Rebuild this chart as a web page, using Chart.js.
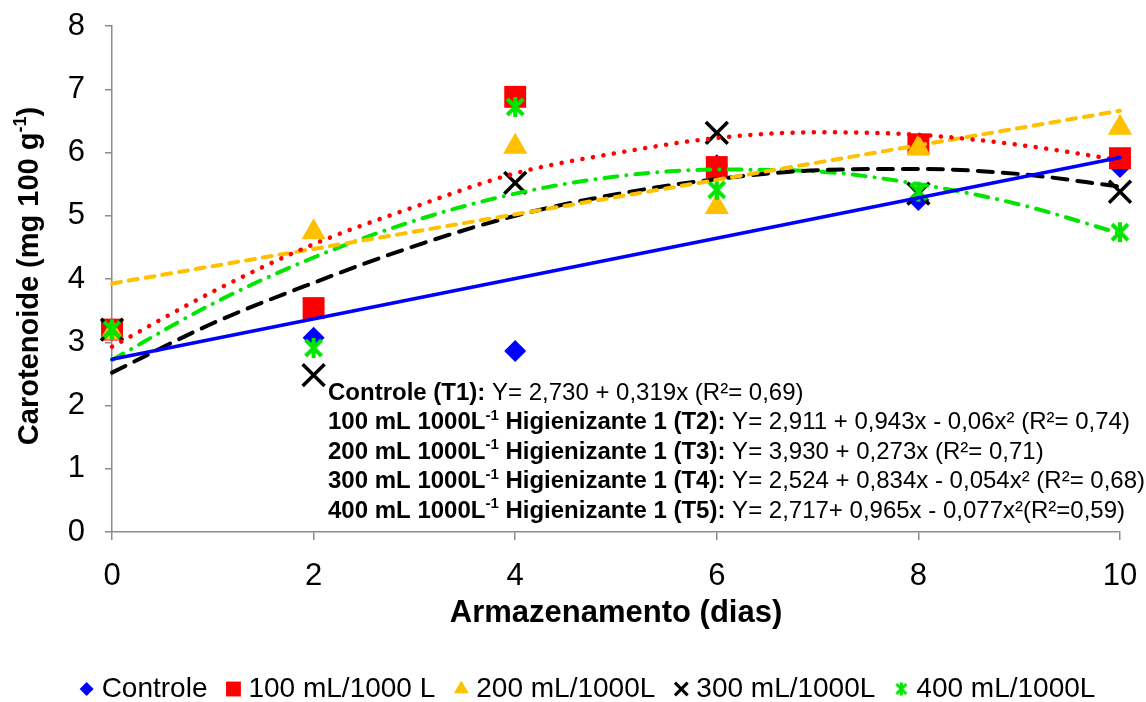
<!DOCTYPE html>
<html>
<head>
<meta charset="utf-8">
<script src="https://cdn.jsdelivr.net/npm/chart.js@4.4.0/dist/chart.umd.min.js"></script>
<style>
  html, body { margin: 0; padding: 0; background: #fff; }
  #wrap { width: 1146px; height: 702px; position: relative; }
</style>
</head>
<body>
<div id="wrap"><canvas id="chart"></canvas></div>
<script>
// storage days and measured carotenoid values
const dias = [0, 2, 4, 6, 8, 10];
const controle = [3.2, 3.07, 2.86, 5.8, 5.25, 5.77];
const t100 = [3.2, 3.54, 6.88, 5.77, 6.13, 5.91];
const t200 = [3.15, 4.74, 6.09, 5.14, 6.07, 6.39];
const t300 = [3.2, 2.48, 5.52, 6.31, 5.35, 5.38];
const t400 = [3.2, 2.91, 6.72, 5.41, 5.38, 4.74];

// trendlines
const linX = [0, 10];
const trendControle = [2.73, 5.92];
const trend200 = [3.93, 6.66];
const curveX = [0, 1, 2, 3, 4, 5, 6, 7, 8, 9, 10];
const trend100 = [2.93, 3.80, 4.55, 5.14, 5.67, 5.99, 6.23, 6.32, 6.28, 6.12, 5.88];
const trend300 = [2.52, 3.30, 3.94, 4.52, 5.00, 5.34, 5.58, 5.72, 5.74, 5.66, 5.46];
const trend400 = [2.72, 3.61, 4.34, 4.92, 5.35, 5.62, 5.73, 5.70, 5.50, 5.18, 4.72];

const legendLabels = ['Controle', '100 mL/1000 L', '200 mL/1000L', '300 mL/1000L', '400 mL/1000L'];
const xTicks = [0, 2, 4, 6, 8, 10];
const yTicks = [0, 1, 2, 3, 4, 5, 6, 7, 8];

const eqPrefix = ['Controle (T1):', '100 mL 1000L', '200 mL 1000L', '300 mL 1000L', '400 mL 1000L'];
const eqSup = ['', '-1', '-1', '-1', '-1'];
const eqSuffix = ['', ' Higienizante 1 (T2):', ' Higienizante 1 (T3):', ' Higienizante 1 (T4):', ' Higienizante 1 (T5):'];
const eqFormula = [
  ' Y= 2,730 + 0,319x (R\u00b2= 0,69)',
  ' Y= 2,911 + 0,943x - 0,06x\u00b2 (R\u00b2= 0,74)',
  ' Y= 3,930 + 0,273x (R\u00b2= 0,71)',
  ' Y= 2,524 + 0,834x - 0,054x\u00b2 (R\u00b2= 0,68)',
  ' Y= 2,717+ 0,965x - 0,077x\u00b2(R\u00b2=0,59)'
];

const FONT = '"Liberation Sans", Arial, sans-serif';
const BLUE = '#0000ff', RED = '#ff0000', ORANGE = '#ffc000', BLACK = '#000000', GREEN = '#00e600';
const AXIS = '#8c8c8c';

function pts(xs, ys) { return xs.map((x, i) => ({ x: x, y: ys[i] })); }

function makeStar(size, lw) {
  const c = document.createElement('canvas');
  c.width = size; c.height = size;
  const g = c.getContext('2d');
  g.strokeStyle = GREEN;
  g.lineWidth = lw;
  const m = lw / 2 + 1;
  g.beginPath();
  g.moveTo(m, m); g.lineTo(size - m, size - m);
  g.moveTo(size - m, m); g.lineTo(m, size - m);
  g.moveTo(size / 2, 1); g.lineTo(size / 2, size - 1);
  g.stroke();
  return c;
}
const starBig = makeStar(22, 4);
const starSmall = makeStar(15, 3);

function markerSet(label, data, style, color, radius, bw, order) {
  return {
    label: label, data: pts(dias, data), showLine: false,
    pointStyle: style, pointRadius: radius, pointHoverRadius: radius,
    pointBackgroundColor: color, pointBorderColor: color, pointBorderWidth: bw,
    clip: false, order: order
  };
}
function trendSet(xs, ys, color, width, dash, cap, order) {
  return {
    label: 'trend', data: pts(xs, ys), showLine: true, pointRadius: 0,
    borderColor: color, borderWidth: width, borderDash: dash, borderCapStyle: cap,
    cubicInterpolationMode: 'monotone', clip: false, order: order, fill: false
  };
}

const extras = {
  id: 'extras',
  afterDraw(chart) {
    const ctx = chart.ctx;
    ctx.save();
    ctx.fillStyle = '#000';
    ctx.textBaseline = 'middle';

    // x title
    ctx.font = 'bold 31px ' + FONT;
    ctx.textAlign = 'center';
    ctx.fillText('Armazenamento (dias)', 616, 613);

    // y title with superscript
    ctx.save();
    ctx.translate(30, 276);
    ctx.rotate(-Math.PI / 2);
    ctx.textAlign = 'left';
    const a = 'Carotenoide (mg 100 g', s = '-1', b = ')';
    ctx.font = 'bold 29px ' + FONT;
    const wa = ctx.measureText(a).width, wb = ctx.measureText(b).width;
    ctx.font = 'bold 18px ' + FONT;
    const ws = ctx.measureText(s).width;
    let x0 = -(wa + ws + wb) / 2;
    ctx.font = 'bold 29px ' + FONT;
    ctx.fillText(a, x0, 0);
    ctx.font = 'bold 18px ' + FONT;
    ctx.fillText(s, x0 + wa, -9);
    ctx.font = 'bold 29px ' + FONT;
    ctx.fillText(b, x0 + wa + ws, 0);
    ctx.restore();

    // regression equations
    ctx.textAlign = 'left';
    for (let i = 0; i < eqPrefix.length; i++) {
      const y = 393 + i * 29.5;
      let x = 328;
      ctx.font = 'bold 24px ' + FONT;
      ctx.fillText(eqPrefix[i], x, y);
      x += ctx.measureText(eqPrefix[i]).width;
      if (eqSup[i]) {
        ctx.font = 'bold 15px ' + FONT;
        ctx.fillText(eqSup[i], x, y - 7);
        x += ctx.measureText(eqSup[i]).width;
        ctx.font = 'bold 24px ' + FONT;
        ctx.fillText(eqSuffix[i], x, y);
        x += ctx.measureText(eqSuffix[i]).width;
      }
      ctx.font = '24px ' + FONT;
      ctx.fillText(eqFormula[i], x, y);
    }

    // legend
    const items = [
      { style: 'rectRot', color: BLUE, r: 7, bw: 0 },
      { style: 'rect', color: RED, r: 10.5, bw: 0 },
      { style: 'triangle', color: ORANGE, r: 8.5, bw: 0 },
      { style: 'crossRot', color: BLACK, r: 9, bw: 3 },
      { style: starSmall, color: GREEN, r: 7, bw: 0 }
    ];
    ctx.font = '28px ' + FONT;
    let total = 0;
    const widths = legendLabels.map(t => ctx.measureText(t).width);
    widths.forEach(w => { total += 8 + 15 + w + 18; });
    total -= 18;
    let cur = 587 - total / 2;
    const ly = 689;
    for (let i = 0; i < items.length; i++) {
      const it = items[i];
      const mx = cur + 8;
      ctx.fillStyle = it.color;
      ctx.strokeStyle = it.color;
      ctx.lineWidth = it.bw;
      Chart.helpers.drawPoint(ctx, { pointStyle: it.style, radius: it.r, rotation: 0, borderWidth: it.bw }, mx, ly);
      ctx.fillStyle = '#000';
      ctx.font = '28px ' + FONT;
      ctx.fillText(legendLabels[i], mx + 15, ly);
      cur = mx + 15 + widths[i] + 18;
    }
    ctx.restore();
  }
};

new Chart(document.getElementById('chart'), {
  type: 'scatter',
  data: {
    datasets: [
      markerSet(legendLabels[0], controle, 'rectRot', BLUE, 11, 0, 15),
      markerSet(legendLabels[1], t100, 'rect', RED, 15.5, 0, 14),
      markerSet(legendLabels[2], t200, 'triangle', ORANGE, 14, 0, 13),
      markerSet(legendLabels[3], t300, 'crossRot', BLACK, 15.5, 3.5, 12),
      markerSet(legendLabels[4], t400, starBig, GREEN, 11, 0, 11),
      trendSet(linX, trendControle, BLUE, 3.5, [], 'round', 0),
      trendSet(curveX, trend100, RED, 4.5, [0.1, 10.5], 'round', 1),
      trendSet(linX, trend200, ORANGE, 4, [9, 8], 'round', 2),
      trendSet(curveX, trend300, BLACK, 4, [15, 10], 'round', 3),
      trendSet(curveX, trend400, GREEN, 4, [13, 9, 0.1, 9], 'round', 4)
    ]
  },
  options: {
    responsive: true,
    maintainAspectRatio: false,
    animation: false,
    layout: { padding: { left: 0, right: 26, top: 26, bottom: 0 } },
    plugins: { legend: { display: false }, tooltip: { enabled: false } },
    scales: {
      x: {
        type: 'linear', min: 0, max: 10,
        afterBuildTicks(scale) { scale.ticks = xTicks.map(v => ({ value: v })); },
        afterFit(scale) { scale.height = 170; scale.paddingLeft = 0; scale.paddingRight = 0; },
        ticks: { color: '#000', font: { family: FONT, size: 31 }, padding: 18 },
        grid: { drawOnChartArea: false, drawTicks: true, tickLength: 8, color: AXIS, lineWidth: 1.5 },
        border: { color: AXIS, width: 1.5 }
      },
      y: {
        min: 0, max: 8,
        afterBuildTicks(scale) { scale.ticks = yTicks.map(v => ({ value: v })); },
        afterFit(scale) { scale.width = 112; scale.paddingTop = 0; scale.paddingBottom = 0; },
        ticks: { color: '#000', font: { family: FONT, size: 31 }, padding: 20 },
        grid: { drawOnChartArea: false, drawTicks: true, tickLength: 7, color: AXIS, lineWidth: 1.5 },
        border: { color: AXIS, width: 1.5 }
      }
    }
  },
  plugins: [extras]
});
</script>
</body>
</html>
